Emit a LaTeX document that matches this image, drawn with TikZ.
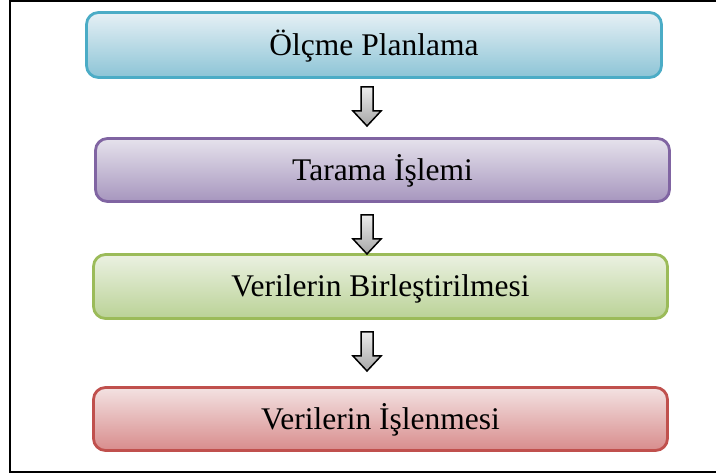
\documentclass[tikz,border=0pt]{standalone}
\usepackage{fontspec}
\setmainfont{Liberation Serif}
\tikzset{
  stagebox/.style={rounded corners=12pt, line width=2.8pt, minimum width=574pt,
    minimum height=63pt, inner sep=0pt, text height=20.5pt, text depth=0pt,
    font=\fontsize{31.5}{37}\selectfont},
  bluebox/.style={stagebox, draw={rgb,255:red,75;green,172;blue,198},
    top color={rgb,255:red,230;green,240;blue,245}, bottom color={rgb,255:red,140;green,196;blue,214}},
  purplebox/.style={stagebox, draw={rgb,255:red,128;green,100;blue,162},
    top color={rgb,255:red,230;green,226;blue,236}, bottom color={rgb,255:red,166;green,150;blue,190}},
  greenbox/.style={stagebox, draw={rgb,255:red,155;green,187;blue,89},
    top color={rgb,255:red,235;green,241;blue,226}, bottom color={rgb,255:red,186;green,210;blue,150}},
  redbox/.style={stagebox, draw={rgb,255:red,192;green,80;blue,77},
    top color={rgb,255:red,243;green,226;blue,226}, bottom color={rgb,255:red,216;green,140;blue,140}},
  downarrow/.pic={
    \path[draw=black, line width=1.5pt, line join=miter,
      top color=gray!15, bottom color=gray!70]
      (-6,0) -- (6,0) -- (6,-24) -- (14,-24) -- (0,-39) -- (-14,-24) -- (-6,-24) -- cycle;
  }
}
\begin{document}
\begin{tikzpicture}[x=1pt,y=1pt]
\useasboundingbox (0,0) rectangle (716,474);
% outer frame (its right side runs past the page edge)
\draw[line width=1.6pt] (722,473) -- (10,473) -- (10,2) -- (722,2);

% process stages
\node[bluebox, minimum width=575pt, minimum height=65pt] (plan) at (374,429) {Ölçme Planlama};
\node[purplebox] (scan) at (382.5,304) {Tarama İşlemi};
\node[greenbox, minimum height=64pt] (merge) at (380.5,187.5) {Verilerin Birleştirilmesi};
\node[redbox] (process) at (380.5,55) {Verilerin İşlenmesi};

% block arrows between the stages
\pic at (367,387) {downarrow};
\pic at (367,259) {downarrow};
\pic at (367,142) {downarrow};
\end{tikzpicture}
\end{document}
